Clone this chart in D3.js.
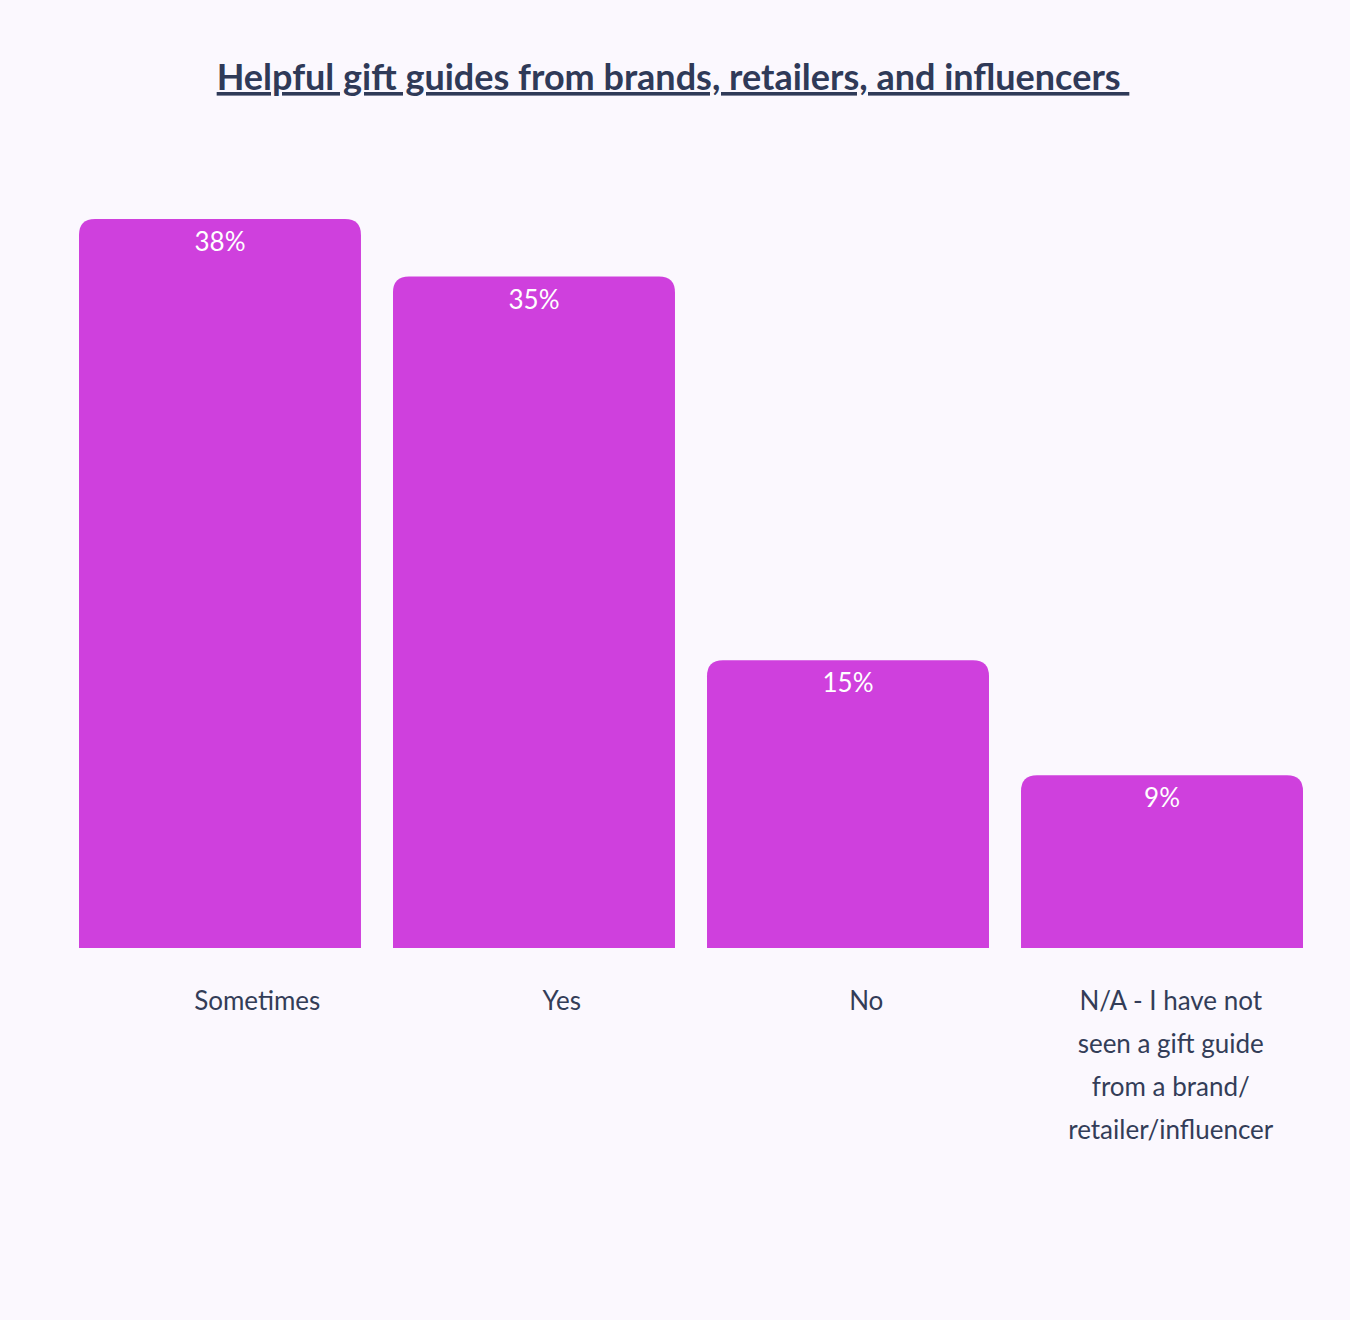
<!DOCTYPE html>
<html><head><meta charset="utf-8">
<script src="https://cdn.jsdelivr.net/npm/d3@7"></script>
<style>body{margin:0;background:#fbf8fe}</style></head>
<body><svg id="c" width="1350" height="1320"></svg>
<script>
const categories = ["Sometimes","Yes","No","N/A - I have not seen a gift guide from a brand/ retailer/influencer"];
const labelLines = [["Sometimes"],["Yes"],["No"],["N/A - I have not","seen a gift guide","from a brand/","retailer/influencer"]];
const values = [38,35,15,9];
const svg = d3.select("#c");
const font = "Lato, 'Open Sans', sans-serif";
svg.append("rect").attr("width",1350).attr("height",1320).attr("fill","#fbf8fe");
svg.append("text").attr("x",673).attr("y",90).attr("text-anchor","middle")
  .attr("font-family",font).attr("font-weight",700).attr("font-size",36)
  .attr("fill","#2f3a58").attr("text-decoration","underline")
  .text("Helpful gift guides from brands, retailers, and influencers\u00a0");
const x = d3.scaleBand().domain(categories).range([79,1303]).paddingInner(0.102).paddingOuter(0);
const xl = d3.scaleBand().domain(categories).range([105,1323]);
const y = d3.scaleLinear().domain([0,38]).range([948,219]);
const r = 16;
categories.forEach((c,i)=>{
  const x0=x(c), w=x.bandwidth(), t=y(values[i]), b=y(0);
  svg.append("path").attr("fill","#cf40dd")
    .attr("d",`M${x0},${b}V${t+r}Q${x0},${t} ${x0+r},${t}H${x0+w-r}Q${x0+w},${t} ${x0+w},${t+r}V${b}Z`);
  svg.append("text").attr("x",x0+w/2).attr("y",t+32).attr("text-anchor","middle")
    .attr("font-family",font).attr("font-size",26).attr("fill","#fff").text(values[i]+"%");
  const tx = svg.append("text").attr("text-anchor","middle").attr("font-family",font)
    .attr("font-size",26).attr("fill","#333d58");
  labelLines[i].forEach((l,j)=>tx.append("tspan").attr("x",xl(c)+xl.bandwidth()/2).attr("y",1010+j*43).text(l));
});
</script></body></html>
